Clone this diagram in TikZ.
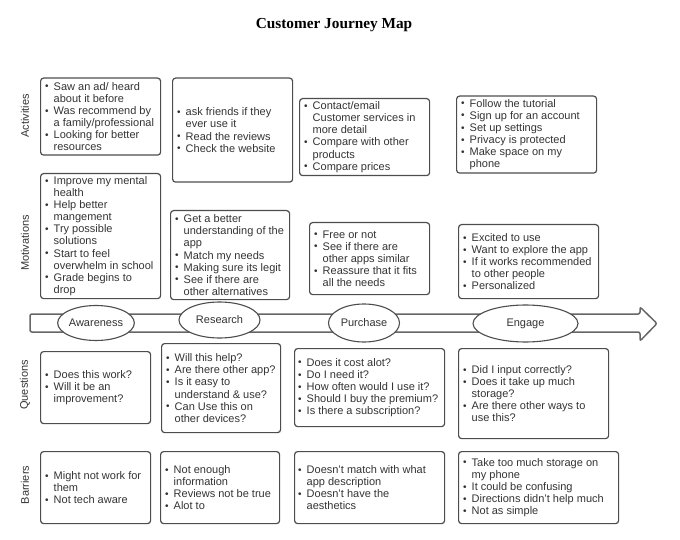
\documentclass[tikz,border=0pt]{standalone}
\usepackage{fontspec}
\setmainfont{Liberation Sans}
\newfontfamily\titlefont{Liberation Serif}
\usetikzlibrary{shapes.geometric}
\definecolor{boxc}{HTML}{4D4D4D}
\definecolor{textc}{HTML}{333333}
\definecolor{arrowc}{HTML}{666666}
\newcommand\bu{\makebox[8.5pt][l]{\raisebox{0.3pt}{\fontsize{10}{10}\selectfont\textbullet}}}
\newcommand\ind{\hspace*{8.5pt}}
\begin{document}
\begin{tikzpicture}[x=1pt,y=-1pt,
  box/.style={draw=boxc, rounded corners=3pt, line width=1.2pt, anchor=north west, inner sep=0pt},
  txt/.style={anchor=west, align=left, inner sep=0pt, text=textc, font=\fontsize{11}{12.1}\selectfont},
  rowlab/.style={rotate=90, inner sep=0pt, text=textc, font=\fontsize{11}{12}\selectfont},
  stage/.style={ellipse, draw=boxc, line width=1.1pt, fill=white, inner sep=0pt, text=textc, font=\fontsize{11}{12}\selectfont}]
\useasboundingbox (0,0) rectangle (680,540);

% title
\node[font=\titlefont\bfseries\fontsize{15.3}{17}\selectfont] (title) at (334,25) {Customer Journey Map};

% row labels
\node[rowlab] (lact) at (25,116) {Activities};
\node[rowlab] (lmot) at (25,243) {Motivations};
\node[rowlab] (lque) at (25,385) {Questions};
\node[rowlab] (lbar) at (25,485) {Barriers};

% Activities
\node[box, minimum width=120, minimum height=77] (a1) at (40,77.5) {};
\node[txt] (a1t) at ([xshift=5pt]a1.west) {\bu Saw an ad/ heard\\\ind about it before\\\bu Was recommend by\\\ind a family/professional\\\bu Looking for better\\\ind resources};
\node[box, minimum width=120, minimum height=104] (a2) at (172,77.5) {};
\node[txt] (a2t) at ([xshift=5pt]a2.west) {\bu ask friends if they\\\ind ever use it\\\bu Read the reviews\\\bu Check the website};
\node[box, minimum width=130, minimum height=77] (a3) at (299,98) {};
\node[txt] (a3t) at ([xshift=5pt]a3.west) {\bu Contact/email\\\ind Customer services in\\\ind more detail\\\bu Compare with other\\\ind products\\\bu Compare prices};
\node[box, minimum width=140, minimum height=77] (a4) at (456,95.5) {};
\node[txt] (a4t) at ([xshift=5pt]a4.west) {\bu Follow the tutorial\\\bu Sign up for an account\\\bu Set up settings\\\bu Privacy is protected\\\bu Make space on my\\\ind phone};

% Motivations
\node[box, minimum width=120, minimum height=125] (m1) at (40,173) {};
\node[txt] (m1t) at ([xshift=5pt]m1.west) {\bu Improve my mental\\\ind health\\\bu Help better\\\ind mangement\\\bu Try possible\\\ind solutions\\\bu Start to feel\\\ind overwhelm in school\\\bu Grade begins to\\\ind drop};
\node[box, minimum width=119, minimum height=89] (m2) at (170,210) {};
\node[txt] (m2t) at ([xshift=5pt]m2.west) {\bu Get a better\\\ind understanding of the\\\ind app\\\bu Match my needs\\\bu Making sure its legit\\\bu See if there are\\\ind other alternatives};
\node[box, minimum width=120, minimum height=72] (m3) at (309,222) {};
\node[txt] (m3t) at ([xshift=5pt]m3.west) {\bu Free or not\\\bu See if there are\\\ind other apps similar\\\bu Reassure that it fits\\\ind all the needs};
\node[box, minimum width=140, minimum height=74] (m4) at (458,224) {};
\node[txt] (m4t) at ([xshift=5pt]m4.west) {\bu Excited to use\\\bu Want to explore the app\\\bu If it works recommended\\\ind to other people\\\bu Personalized};

% journey arrow
\draw[draw=arrowc, line width=1.5pt, fill=white, rounded corners=2pt]
  (30,314) -- (640,314) -- (640,307) -- (657,323.5) -- (640,341) -- (640,332) -- (30,332) -- cycle;
\node[stage, minimum width=74, minimum height=35] (s1) at (96,323) {Awareness};
\node[stage, minimum width=81, minimum height=36] (s2) at (219.5,320) {Research};
\node[stage, minimum width=71, minimum height=38] (s3) at (364,323) {Purchase};
\node[stage, minimum width=105, minimum height=37] (s4) at (525.5,323.5) {Engage};

% Questions
\node[box, minimum width=110, minimum height=72] (q1) at (40,351) {};
\node[txt] (q1t) at ([xshift=5pt]q1.west) {\bu Does this work?\\\bu Will it be an\\\ind improvement?};
\node[box, minimum width=119, minimum height=89] (q2) at (161,343) {};
\node[txt] (q2t) at ([xshift=5pt]q2.west) {\bu Will this help?\\\bu Are there other app?\\\bu Is it easy to\\\ind understand \& use?\\\bu Can Use this on\\\ind other devices?};
\node[box, minimum width=150, minimum height=78] (q3) at (294,348) {};
\node[txt] (q3t) at ([xshift=4pt]q3.west) {\bu Does it cost alot?\\\bu Do I need it?\\\bu How often would I use it?\\\bu Should I buy the premium?\\\bu Is there a subscription?};
\node[box, minimum width=150, minimum height=90] (q4) at (458,348) {};
\node[txt] (q4t) at ([xshift=5pt]q4.west) {\bu Did I input correctly?\\\bu Does it take up much\\\ind storage?\\\bu Are there other ways to\\\ind use this?};

% Barriers
\node[box, minimum width=110, minimum height=72] (b1) at (40,451) {};
\node[txt] (b1t) at ([xshift=5pt]b1.west) {\bu Might not work for\\\ind them\\\bu Not tech aware};
\node[box, minimum width=119, minimum height=72] (b2) at (160,451) {};
\node[txt] (b2t) at ([xshift=5pt]b2.west) {\bu Not enough\\\ind information\\\bu Reviews not be true\\\bu Alot to};
\node[box, minimum width=150, minimum height=72] (b3) at (294,451) {};
\node[txt] (b3t) at ([xshift=4pt]b3.west) {\bu Doesn't match with what\\\ind app description\\\bu Doesn't have the\\\ind aesthetics};
\node[box, minimum width=160, minimum height=72] (b4) at (458,451) {};
\node[txt] (b4t) at ([xshift=5pt]b4.west) {\bu Take too much storage on\\\ind my phone\\\bu It could be confusing\\\bu Directions didn't help much\\\bu Not as simple};
\end{tikzpicture}
\end{document}
